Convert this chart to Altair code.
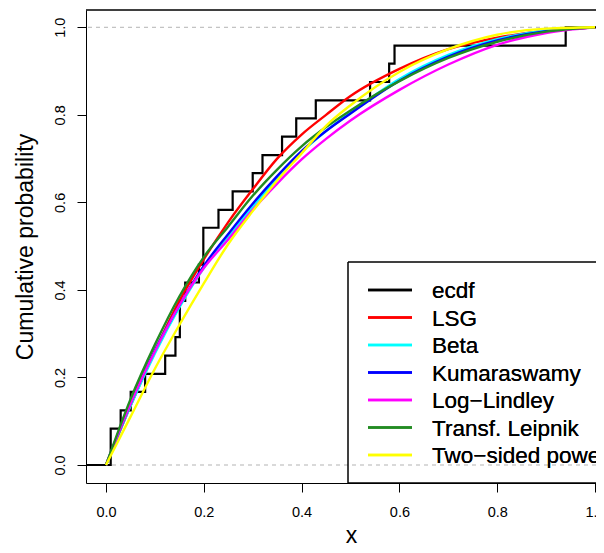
import altair as alt
import pandas as pd

# ---------------- data ----------------
# empirical cdf: jump locations and levels reached after each jump
ecdf_x = [0.0096, 0.030, 0.0505, 0.080, 0.121, 0.142, 0.151, 0.162, 0.190, 0.199,
          0.230, 0.259, 0.300, 0.320, 0.360, 0.389, 0.429, 0.540, 0.579, 0.590, 0.940]
ecdf_y = [0.083, 0.125, 0.167, 0.208, 0.250, 0.292, 0.375, 0.417, 0.458, 0.542,
          0.583, 0.625, 0.667, 0.708, 0.750, 0.792, 0.833, 0.875, 0.917, 0.958, 1.0]

grid_x = [0, 0.05, 0.1, 0.15, 0.2, 0.25, 0.3, 0.35, 0.4, 0.45, 0.5, 0.6, 0.7, 0.8, 0.9, 1.0]
lsg      = [0, 0.135, 0.26, 0.375, 0.47, 0.555, 0.63, 0.70, 0.755, 0.80, 0.843, 0.905, 0.950, 0.976, 0.992, 1]
beta     = [0, 0.135, 0.255, 0.36, 0.45, 0.52, 0.59, 0.655, 0.715, 0.763, 0.805, 0.882, 0.937, 0.973, 0.993, 1]
kumar    = [0, 0.14, 0.262, 0.365, 0.455, 0.528, 0.597, 0.66, 0.717, 0.763, 0.803, 0.878, 0.933, 0.970, 0.991, 1]
loglind  = [0, 0.14, 0.26, 0.365, 0.45, 0.515, 0.583, 0.643, 0.698, 0.745, 0.787, 0.857, 0.915, 0.960, 0.987, 1]
leipnik  = [0, 0.15, 0.275, 0.385, 0.475, 0.545, 0.615, 0.675, 0.728, 0.772, 0.81, 0.877, 0.93, 0.967, 0.99, 1]
tsp      = [0, 0.11, 0.22, 0.32, 0.415, 0.505, 0.58, 0.65, 0.712, 0.775, 0.822, 0.898, 0.950, 0.983, 0.997, 1]

names  = ["ecdf", "LSG", "Beta", "Kumaraswamy", "Log\u2212Lindley", "Transf. Leipnik", "Two\u2212sided power"]
colors = ["#000000", "#FF0000", "#00FFFF", "#0000FF", "#FF00FF", "#228B22", "#FFFF00"]
curves = [lsg, beta, kumar, loglind, leipnik, tsp]

x_ticks = [0.0, 0.2, 0.4, 0.6, 0.8, 1.0]
y_ticks = [0.0, 0.2, 0.4, 0.6, 0.8, 1.0]
ref_lines = [0.0, 1.0]

X_DOM = [-0.0409, 1.002]
Y_DOM = [-0.0411, 1.0395]

W, H = 510, 473
FONT = "Liberation Sans"

xs = alt.Scale(domain=X_DOM, nice=False, zero=False)
ys = alt.Scale(domain=Y_DOM, nice=False, zero=False)

x_axis = alt.Axis(values=x_ticks, format=".1f", grid=False, tickSize=9, labelPadding=13,
                  labelFontSize=14.5, labelFont=FONT, labelColor="black",
                  labelOverlap=False, labelBound=False, labelFlush=False,
                  domainColor="black", tickColor="black", title="x",
                  titleFont=FONT, titleFontSize=23, titleFontWeight="normal",
                  titleColor="black", titleX=265, titleY=59, titleBaseline="alphabetic",
                  titleAlign="center")
y_axis = alt.Axis(values=y_ticks, format=".1f", grid=False, tickSize=9, labelPadding=13,
                  labelFontSize=14.5, labelFont=FONT, labelColor="black", labelAngle=270,
                  labelAlign="center", labelBaseline="alphabetic",
                  domainColor="black", tickColor="black", title="Cumulative probability",
                  titleFont=FONT, titleFontSize=23, titleFontWeight="normal",
                  titleColor="black", titleAngle=270, titleX=-54, titleY=236.5,
                  titleBaseline="alphabetic", titleAlign="center")

# reference dashed lines
ref_df = pd.DataFrame({"v": ref_lines})
refs = alt.Chart(ref_df).mark_rule(color="#b3b3b3", strokeDash=[4, 4], strokeWidth=1).encode(
    y=alt.Y("v:Q", scale=ys, axis=y_axis)
)

# ecdf step line
e_df = pd.DataFrame({
    "x": [X_DOM[0]] + ecdf_x + [X_DOM[1] + 0.05],
    "y": [0.0] + ecdf_y + [1.0],
})
ecdf = alt.Chart(e_df).mark_line(color="black", strokeWidth=2.2, interpolate="step-after").encode(
    x=alt.X("x:Q", scale=xs, axis=x_axis),
    y=alt.Y("y:Q", scale=ys, axis=y_axis),
)

layers = [refs, ecdf]
for vals, col in zip(curves, colors[1:]):
    df = pd.DataFrame({"x": grid_x, "y": vals})
    layers.append(
        alt.Chart(df).mark_line(color=col, strokeWidth=2.4, interpolate="monotone").encode(
            x=alt.X("x:Q", scale=xs, axis=x_axis),
            y=alt.Y("y:Q", scale=ys, axis=y_axis),
        )
    )

# top frame line
layers.append(alt.Chart(ref_df).mark_rule(color="black", strokeWidth=1).encode(
    x=alt.value(0), x2=alt.value(W + 10), y=alt.value(0)))

# legend box
layers.append(alt.Chart(ref_df).mark_rect(fillOpacity=0, stroke="black", strokeWidth=1).encode(
    x=alt.value(262), x2=alt.value(W + 40), y=alt.value(252), y2=alt.value(H)))

LEG_TOP, LEG_STEP = 280, 27.5
for i, (nm, col) in enumerate(zip(names, colors)):
    ly = LEG_TOP + i * LEG_STEP
    layers.append(alt.Chart(ref_df).mark_rule(color=col, strokeWidth=2.6).encode(
        x=alt.value(282), x2=alt.value(326), y=alt.value(ly)))
    layers.append(alt.Chart(ref_df).mark_text(text=nm, align="left", baseline="alphabetic",
                                              font=FONT, fontSize=22.5, color="black").encode(
        x=alt.value(346), y=alt.value(ly + 8)))

chart = alt.layer(*layers).properties(
    width=W, height=H,
    autosize=alt.AutoSizeParams(type="none"),
    padding={"left": 78, "top": 2, "right": 0, "bottom": 62},
    background="white",
).configure_view(stroke=None)

chart.save("out.html", embed_options={"renderer": "svg", "actions": False})
